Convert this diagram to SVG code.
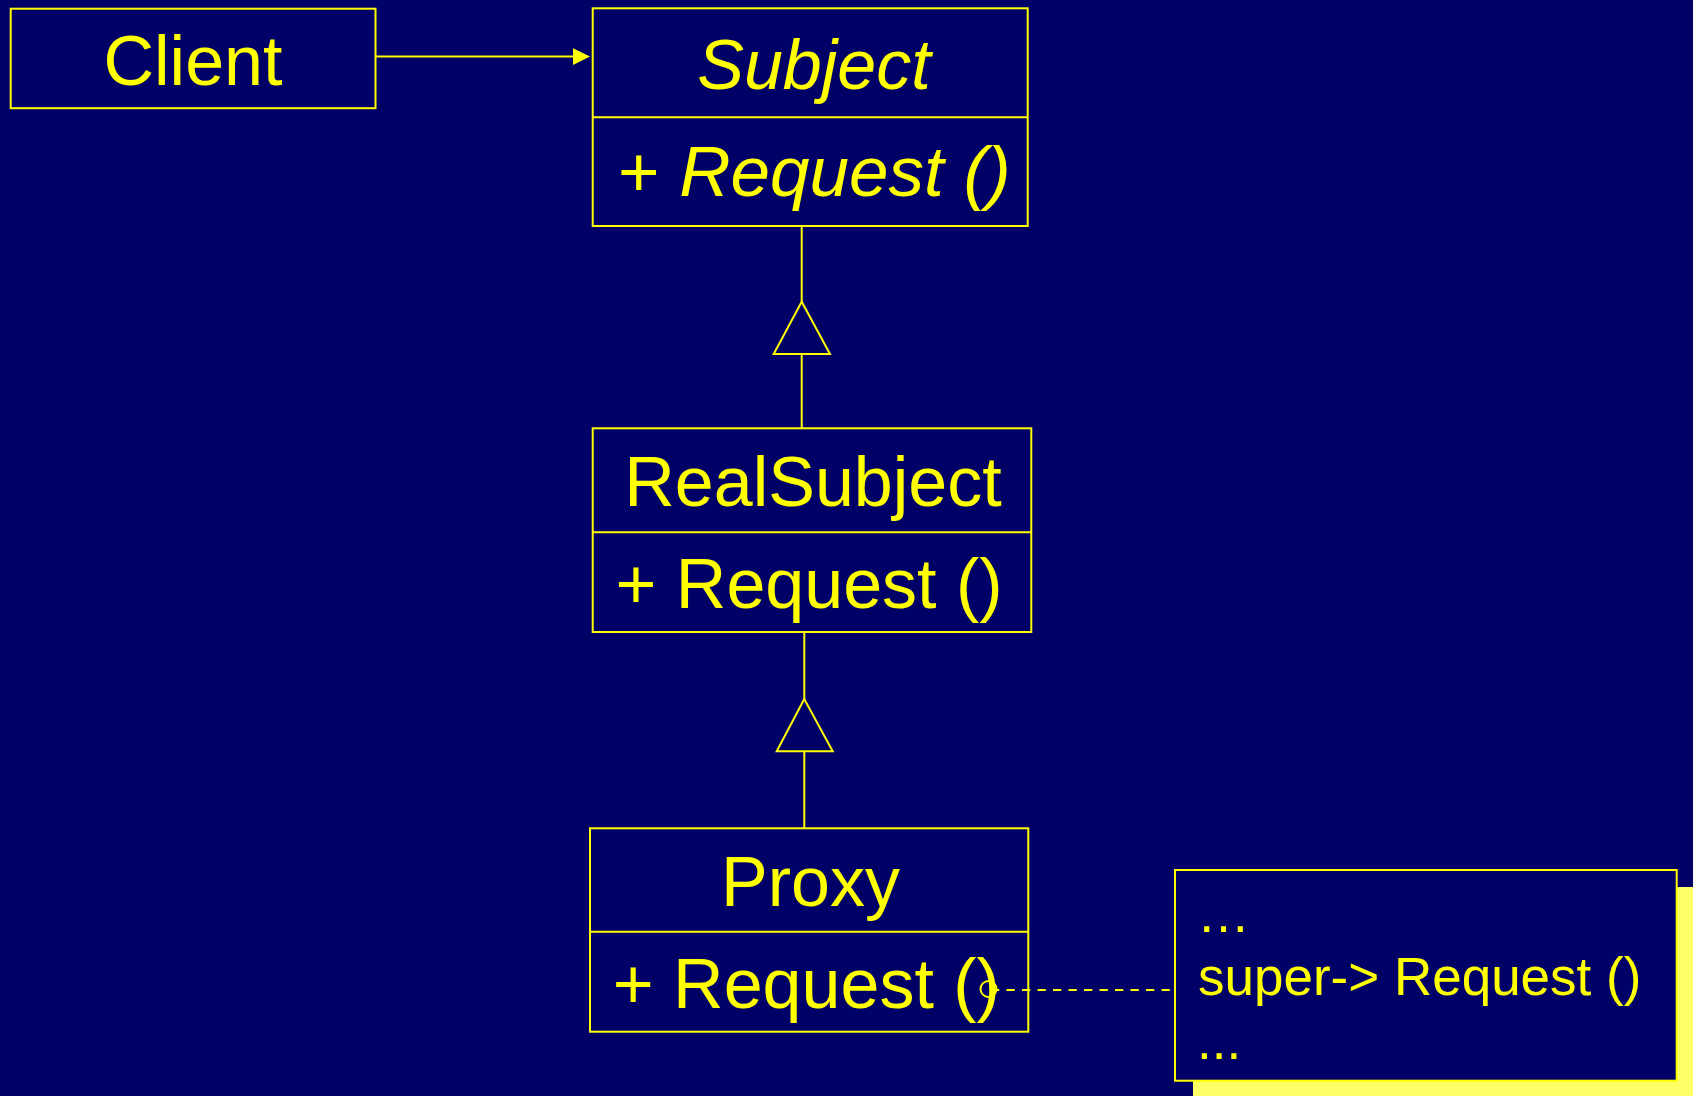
<svg xmlns="http://www.w3.org/2000/svg" width="1693" height="1096" viewBox="0 0 1693 1096">
<defs>
<style>
.box{fill:#000066;stroke:#FFFF00;stroke-width:2}
.ln{stroke:#FFFF00;stroke-width:2;fill:none}
.tri{fill:#000066;stroke:#FFFF00;stroke-width:2;stroke-linejoin:miter}
.t{font-family:"Liberation Sans",Arial,sans-serif;font-size:70px;fill:#FFFF00}
.n{font-family:"Liberation Sans",Arial,sans-serif;font-size:53px;fill:#FFFF00}
.i{font-style:italic}
</style>
</defs>
<rect x="0" y="0" width="1693" height="1096" fill="#000066"/>
<g id="client">
<rect class="box" x="10.7" y="8.7" width="364.8" height="99.5"/>
<text class="t" x="193" y="85" text-anchor="middle">Client</text>
</g>
<g id="subject">
<rect class="box" x="592.7" y="8.3" width="435" height="217.7"/>
<line class="ln" x1="592.7" y1="117.3" x2="1027.7" y2="117.3"/>
<text class="t i" x="814" y="89" text-anchor="middle">Subject</text>
<text class="t" x="618" y="196" style="font-size:71px">+ <tspan class="i">Request ()</tspan></text>
</g>
<g id="realsubject">
<rect class="box" x="592.7" y="428.3" width="438.6" height="203.7"/>
<line class="ln" x1="592.7" y1="532.3" x2="1031.3" y2="532.3"/>
<text class="t" x="813" y="506" text-anchor="middle">RealSubject</text>
<text class="t" x="615.5" y="607.7">+ Request ()</text>
</g>
<g id="proxy">
<rect class="box" x="590" y="828.3" width="438.3" height="203.4"/>
<line class="ln" x1="590" y1="931.7" x2="1028.3" y2="931.7"/>
<text class="t" x="810.5" y="906" text-anchor="middle">Proxy</text>
<text class="t" x="612.8" y="1007.7">+ Request ()</text>
</g>
<g id="note">
<rect x="1193" y="887" width="510" height="220" fill="#FFFF66"/>
<rect class="box" x="1175" y="870" width="501.7" height="210.7"/>
<text class="n" x="1197" y="932">…</text>
<text class="n" x="1198" y="995">super-&gt; Request ()</text>
<text class="n" x="1197" y="1059">...</text>
</g>
<g id="connectors">
<line class="ln" x1="375.5" y1="56.5" x2="576" y2="56.5"/>
<polygon points="573,48.3 590,56.6 573,65" fill="#FFFF00"/>
<line class="ln" x1="801.7" y1="226" x2="801.7" y2="301.7"/>
<polygon class="tri" points="801.7,301.7 773.7,354 830,354"/>
<line class="ln" x1="801.7" y1="354" x2="801.7" y2="428.3"/>
<line class="ln" x1="804.3" y1="632" x2="804.3" y2="699"/>
<polygon class="tri" points="804.3,699 776.7,751.3 832.7,751.3"/>
<line class="ln" x1="804.3" y1="751.3" x2="804.3" y2="828.3"/>
<circle class="ln" cx="988.5" cy="989" r="8"/>
<line class="ln" x1="991" y1="990" x2="1175" y2="990" stroke-dasharray="8.3 7.2"/>
</g>
</svg>
